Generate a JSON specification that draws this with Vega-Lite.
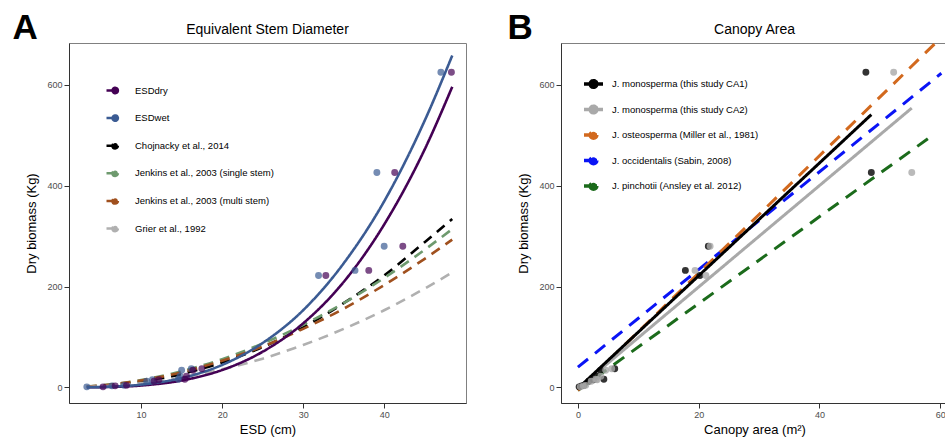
{
  "$schema": "https://vega.github.io/schema/vega-lite/v6.json",
  "padding": {"left": 12, "top": 10, "right": 0, "bottom": 0},
  "spacing": 40,
  "resolve": {"scale": {"color": "independent", "strokeDash": "independent"}, "legend": {"color": "independent"}},
  "config": {
    "font": "Liberation Sans",
    "view": {"stroke": "#808080", "strokeWidth": 1},
    "axis": {"domainColor": "#333333", "tickColor": "#333333", "labelColor": "#4d4d4d", "labelFontSize": 9, "titleFontSize": 13, "titleFontWeight": "normal", "titleColor": "#000000", "grid": false, "tickSize": 5, "labelPadding": 2},
    "title": {"color": "#000000"},
    "legend": {"padding": 0, "title": null, "labelFontSize": 9.5, "labelColor": "#000000", "symbolOpacity": 1}
  },
  "datasets": {
    "a_lines": [
      {"series": "Chojnacky et al., 2014", "x": 3.3, "y": 1.0}, {"series": "Chojnacky et al., 2014", "x": 5, "y": 2.4}, {"series": "Chojnacky et al., 2014", "x": 10, "y": 11.0}, {"series": "Chojnacky et al., 2014", "x": 15, "y": 26.5}, {"series": "Chojnacky et al., 2014", "x": 20, "y": 49.5}, {"series": "Chojnacky et al., 2014", "x": 25, "y": 80}, {"series": "Chojnacky et al., 2014", "x": 30, "y": 119}, {"series": "Chojnacky et al., 2014", "x": 35, "y": 167}, {"series": "Chojnacky et al., 2014", "x": 40, "y": 222}, {"series": "Chojnacky et al., 2014", "x": 45, "y": 288}, {"series": "Chojnacky et al., 2014", "x": 48.4, "y": 334},
      {"series": "Jenkins et al., 2003 (single stem)", "x": 3.3, "y": 1.7}, {"series": "Jenkins et al., 2003 (single stem)", "x": 5, "y": 3.8}, {"series": "Jenkins et al., 2003 (single stem)", "x": 10, "y": 14.5}, {"series": "Jenkins et al., 2003 (single stem)", "x": 15, "y": 32}, {"series": "Jenkins et al., 2003 (single stem)", "x": 20, "y": 56}, {"series": "Jenkins et al., 2003 (single stem)", "x": 25, "y": 87}, {"series": "Jenkins et al., 2003 (single stem)", "x": 30, "y": 124}, {"series": "Jenkins et al., 2003 (single stem)", "x": 35, "y": 167}, {"series": "Jenkins et al., 2003 (single stem)", "x": 40, "y": 217}, {"series": "Jenkins et al., 2003 (single stem)", "x": 45, "y": 273}, {"series": "Jenkins et al., 2003 (single stem)", "x": 48.4, "y": 314},
      {"series": "Jenkins et al., 2003 (multi stem)", "x": 3.3, "y": 1.6}, {"series": "Jenkins et al., 2003 (multi stem)", "x": 5, "y": 3.6}, {"series": "Jenkins et al., 2003 (multi stem)", "x": 10, "y": 13.8}, {"series": "Jenkins et al., 2003 (multi stem)", "x": 15, "y": 30}, {"series": "Jenkins et al., 2003 (multi stem)", "x": 20, "y": 53}, {"series": "Jenkins et al., 2003 (multi stem)", "x": 25, "y": 81}, {"series": "Jenkins et al., 2003 (multi stem)", "x": 30, "y": 116}, {"series": "Jenkins et al., 2003 (multi stem)", "x": 35, "y": 156}, {"series": "Jenkins et al., 2003 (multi stem)", "x": 40, "y": 203}, {"series": "Jenkins et al., 2003 (multi stem)", "x": 45, "y": 255}, {"series": "Jenkins et al., 2003 (multi stem)", "x": 48.4, "y": 293},
      {"series": "Grier et al., 1992", "x": 3.3, "y": 0.8}, {"series": "Grier et al., 1992", "x": 5, "y": 1.9}, {"series": "Grier et al., 1992", "x": 10, "y": 8.3}, {"series": "Grier et al., 1992", "x": 15, "y": 19.5}, {"series": "Grier et al., 1992", "x": 20, "y": 35.7}, {"series": "Grier et al., 1992", "x": 25, "y": 57}, {"series": "Grier et al., 1992", "x": 30, "y": 84}, {"series": "Grier et al., 1992", "x": 35, "y": 116}, {"series": "Grier et al., 1992", "x": 40, "y": 153}, {"series": "Grier et al., 1992", "x": 45, "y": 196}, {"series": "Grier et al., 1992", "x": 48.4, "y": 228},
      {"series": "ESDdry", "x": 3.3, "y": 0.1}, {"series": "ESDdry", "x": 5, "y": 0.39}, {"series": "ESDdry", "x": 10, "y": 3.7}, {"series": "ESDdry", "x": 15, "y": 13.6}, {"series": "ESDdry", "x": 20, "y": 34.4}, {"series": "ESDdry", "x": 25, "y": 70.7}, {"series": "ESDdry", "x": 30, "y": 127}, {"series": "ESDdry", "x": 35, "y": 209}, {"series": "ESDdry", "x": 40, "y": 323}, {"series": "ESDdry", "x": 45, "y": 472}, {"series": "ESDdry", "x": 48.4, "y": 596},
      {"series": "ESDwet", "x": 3.3, "y": 0.18}, {"series": "ESDwet", "x": 5, "y": 0.65}, {"series": "ESDwet", "x": 10, "y": 5.4}, {"series": "ESDwet", "x": 15, "y": 18.5}, {"series": "ESDwet", "x": 20, "y": 44.5}, {"series": "ESDwet", "x": 25, "y": 88}, {"series": "ESDwet", "x": 30, "y": 153}, {"series": "ESDwet", "x": 35, "y": 246}, {"series": "ESDwet", "x": 40, "y": 369}, {"series": "ESDwet", "x": 45, "y": 529}, {"series": "ESDwet", "x": 48.4, "y": 658}
    ],
    "a_points": [
      {"series": "ESDwet", "x": 3.3, "y": 1}, {"series": "ESDwet", "x": 6.4, "y": 3}, {"series": "ESDwet", "x": 7.9, "y": 4}, {"series": "ESDwet", "x": 10.7, "y": 12}, {"series": "ESDwet", "x": 11.4, "y": 15}, {"series": "ESDwet", "x": 14.6, "y": 16}, {"series": "ESDwet", "x": 14.8, "y": 22}, {"series": "ESDwet", "x": 15.0, "y": 34}, {"series": "ESDwet", "x": 16.2, "y": 37}, {"series": "ESDwet", "x": 31.9, "y": 222}, {"series": "ESDwet", "x": 36.4, "y": 232}, {"series": "ESDwet", "x": 40.0, "y": 280}, {"series": "ESDwet", "x": 39.1, "y": 426}, {"series": "ESDwet", "x": 47.0, "y": 625},
      {"series": "ESDdry", "x": 5.3, "y": 1}, {"series": "ESDdry", "x": 6.8, "y": 3}, {"series": "ESDdry", "x": 8.2, "y": 4}, {"series": "ESDdry", "x": 11.6, "y": 12}, {"series": "ESDdry", "x": 12.2, "y": 15}, {"series": "ESDdry", "x": 15.4, "y": 16}, {"series": "ESDdry", "x": 15.6, "y": 22}, {"series": "ESDdry", "x": 16.4, "y": 34}, {"series": "ESDdry", "x": 17.5, "y": 37}, {"series": "ESDdry", "x": 32.8, "y": 222}, {"series": "ESDdry", "x": 38.1, "y": 232}, {"series": "ESDdry", "x": 42.3, "y": 280}, {"series": "ESDdry", "x": 41.3, "y": 426}, {"series": "ESDdry", "x": 48.3, "y": 625}
    ],
    "b_lines": [
      {"series": "J. pinchotii (Ansley et al. 2012)", "x": 0, "y": -6}, {"series": "J. pinchotii (Ansley et al. 2012)", "x": 59, "y": 502},
      {"series": "J. occidentalis (Sabin, 2008)", "x": 0, "y": 40}, {"series": "J. occidentalis (Sabin, 2008)", "x": 60.2, "y": 623},
      {"series": "J. osteosperma (Miller et al., 1981)", "x": 0, "y": -6}, {"series": "J. osteosperma (Miller et al., 1981)", "x": 59.5, "y": 686},
      {"series": "J. monosperma (this study CA2)", "x": 0.2, "y": 0}, {"series": "J. monosperma (this study CA2)", "x": 55.3, "y": 554},
      {"series": "J. monosperma (this study CA1)", "x": 0.2, "y": 0}, {"series": "J. monosperma (this study CA1)", "x": 48.6, "y": 541}
    ],
    "b_points": [
      {"series": "J. monosperma (this study CA1)", "x": 0.2, "y": 1}, {"series": "J. monosperma (this study CA1)", "x": 0.6, "y": 3}, {"series": "J. monosperma (this study CA1)", "x": 1.0, "y": 4}, {"series": "J. monosperma (this study CA1)", "x": 1.8, "y": 12}, {"series": "J. monosperma (this study CA1)", "x": 2.6, "y": 15}, {"series": "J. monosperma (this study CA1)", "x": 4.3, "y": 16}, {"series": "J. monosperma (this study CA1)", "x": 3.2, "y": 22}, {"series": "J. monosperma (this study CA1)", "x": 3.8, "y": 34}, {"series": "J. monosperma (this study CA1)", "x": 6.1, "y": 37}, {"series": "J. monosperma (this study CA1)", "x": 20.2, "y": 222}, {"series": "J. monosperma (this study CA1)", "x": 17.8, "y": 232}, {"series": "J. monosperma (this study CA1)", "x": 21.6, "y": 280}, {"series": "J. monosperma (this study CA1)", "x": 48.6, "y": 426}, {"series": "J. monosperma (this study CA1)", "x": 47.7, "y": 625},
      {"series": "J. monosperma (this study CA2)", "x": 0.4, "y": 1}, {"series": "J. monosperma (this study CA2)", "x": 0.9, "y": 3}, {"series": "J. monosperma (this study CA2)", "x": 1.3, "y": 4}, {"series": "J. monosperma (this study CA2)", "x": 2.2, "y": 12}, {"series": "J. monosperma (this study CA2)", "x": 3.2, "y": 15}, {"series": "J. monosperma (this study CA2)", "x": 3.0, "y": 16}, {"series": "J. monosperma (this study CA2)", "x": 3.8, "y": 22}, {"series": "J. monosperma (this study CA2)", "x": 4.6, "y": 34}, {"series": "J. monosperma (this study CA2)", "x": 5.6, "y": 37}, {"series": "J. monosperma (this study CA2)", "x": 21.2, "y": 222}, {"series": "J. monosperma (this study CA2)", "x": 19.4, "y": 232}, {"series": "J. monosperma (this study CA2)", "x": 21.9, "y": 280}, {"series": "J. monosperma (this study CA2)", "x": 55.3, "y": 426}, {"series": "J. monosperma (this study CA2)", "x": 52.3, "y": 625}
    ]
  },
  "hconcat": [
    {
      "title": {"text": "A", "anchor": "start", "fontSize": 35, "fontWeight": "bold", "dx": -13, "dy": 27},
      "vconcat": [
        {
          "width": 397, "height": 360,
          "title": {"text": "Equivalent Stem Diameter", "frame": "group", "fontSize": 14, "fontWeight": "normal", "offset": 6},
          "layer": [
            {
              "data": {"name": "a_lines"},
              "mark": {"type": "line", "strokeWidth": 2.6, "clip": true, "interpolate": "monotone"},
              "encoding": {
                "x": {"field": "x", "type": "quantitative", "scale": {"domain": [1.1, 50.1], "nice": false, "zero": false}, "axis": {"values": [10, 20, 30, 40], "title": "ESD (cm)", "titlePadding": 4}},
                "y": {"field": "y", "type": "quantitative", "scale": {"domain": [-31, 683], "nice": false, "zero": false}, "axis": {"values": [0, 200, 400, 600], "title": "Dry biomass (Kg)", "titlePadding": 8}},
                "color": {"field": "series", "type": "nominal",
                  "scale": {"domain": ["ESDdry", "ESDwet", "Chojnacky et al., 2014", "Jenkins et al., 2003 (single stem)", "Jenkins et al., 2003 (multi stem)", "Grier et al., 1992"], "range": ["#440154", "#3B5B93", "#000000", "#6E9A6E", "#A0501E", "#B0B0B0"]},
                  "legend": {"orient": "none", "legendX": 36, "legendY": 40, "symbolType": "M-1,0H0.2M0.9,0A0.45,0.45 0 1,1 0,0A0.45,0.45 0 1,1 0.9,0Z", "symbolSize": 144, "symbolStrokeWidth": 2.5, "labelOffset": 15, "rowPadding": 10.6}},
                "strokeDash": {"field": "series", "type": "nominal",
                  "scale": {"domain": ["ESDdry", "ESDwet", "Chojnacky et al., 2014", "Jenkins et al., 2003 (single stem)", "Jenkins et al., 2003 (multi stem)", "Grier et al., 1992"], "range": [[1, 0], [1, 0], [10, 7], [10, 7], [10, 7], [10, 7]]},
                  "legend": null}
              }
            },
            {
              "data": {"name": "a_points"},
              "mark": {"type": "point", "filled": true, "size": 48, "opacity": 0.7},
              "encoding": {
                "x": {"field": "x", "type": "quantitative"},
                "y": {"field": "y", "type": "quantitative"},
                "color": {"field": "series", "type": "nominal"}
              }
            }
          ]
        }
      ]
    },
    {
      "title": {"text": "B", "anchor": "start", "fontSize": 35, "fontWeight": "bold", "dx": -10, "dy": 27},
      "vconcat": [
        {
          "width": 387, "height": 360,
          "title": {"text": "Canopy Area", "frame": "group", "fontSize": 14, "fontWeight": "normal", "offset": 6},
          "layer": [
            {
              "data": {"name": "b_lines"},
              "mark": {"type": "line", "strokeWidth": 3, "clip": true},
              "encoding": {
                "x": {"field": "x", "type": "quantitative", "scale": {"domain": [-2.8, 61.3], "nice": false, "zero": false}, "axis": {"values": [0, 20, 40, 60], "title": "Canopy area (m²)", "titlePadding": 4}},
                "y": {"field": "y", "type": "quantitative", "scale": {"domain": [-31, 683], "nice": false, "zero": false}, "axis": {"values": [0, 200, 400, 600], "title": "Dry biomass (Kg)", "titlePadding": 8}},
                "color": {"field": "series", "type": "nominal",
                  "scale": {"domain": ["J. monosperma (this study CA1)", "J. monosperma (this study CA2)", "J. osteosperma (Miller et al., 1981)", "J. occidentalis (Sabin, 2008)", "J. pinchotii (Ansley et al. 2012)"], "range": ["#000000", "#A9A9A9", "#D2691E", "#0A14F5", "#1B6B1B"]},
                  "legend": {"orient": "none", "legendX": 21, "legendY": 29.5, "symbolType": "M-1,0H1M0.35,0A0.35,0.35 0 1,1 -0.35,0A0.35,0.35 0 1,1 0.35,0Z", "symbolSize": 361, "symbolStrokeWidth": 3.5, "labelOffset": 7, "rowPadding": 3.5}},
                "strokeDash": {"field": "series", "type": "nominal",
                  "scale": {"domain": ["J. monosperma (this study CA1)", "J. monosperma (this study CA2)", "J. osteosperma (Miller et al., 1981)", "J. occidentalis (Sabin, 2008)", "J. pinchotii (Ansley et al. 2012)"], "range": [[1, 0], [1, 0], [13, 9], [13, 9], [13, 9]]},
                  "legend": null}
              }
            },
            {
              "data": {"name": "b_points"},
              "mark": {"type": "point", "filled": true, "size": 48, "opacity": 0.8},
              "encoding": {
                "x": {"field": "x", "type": "quantitative"},
                "y": {"field": "y", "type": "quantitative"},
                "color": {"field": "series", "type": "nominal"}
              }
            }
          ]
        }
      ]
    }
  ]
}
